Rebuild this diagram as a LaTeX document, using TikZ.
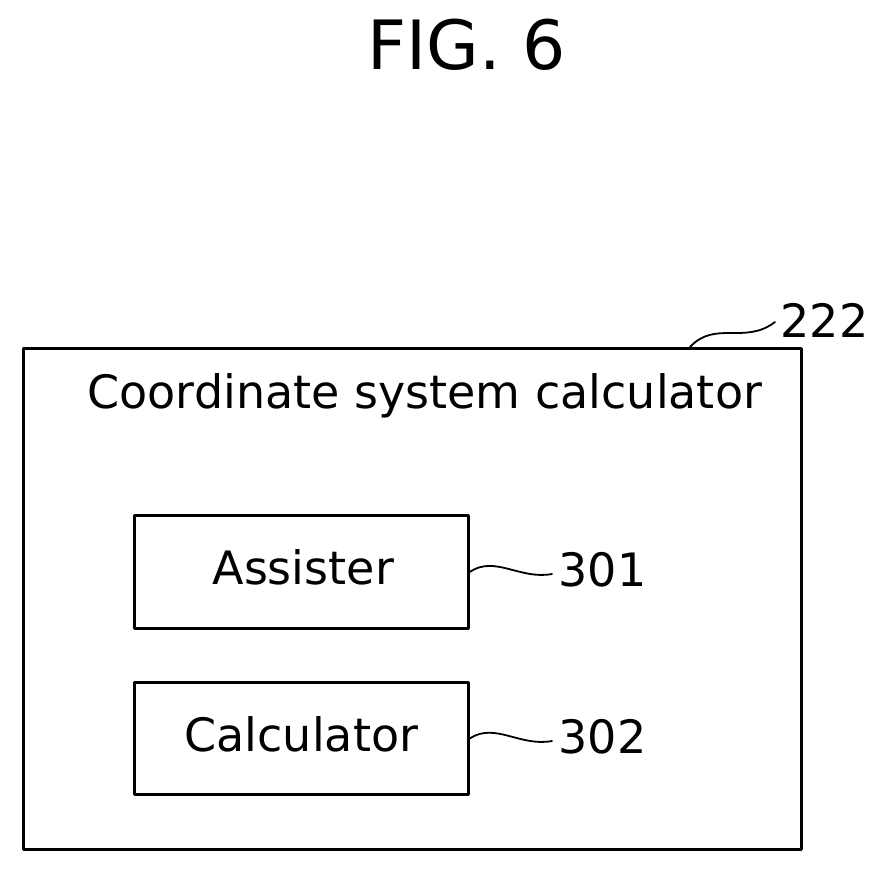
\documentclass[tikz,border=0pt]{standalone}
\usepackage{fontspec}
\setmainfont{DejaVu Sans}
\usetikzlibrary{positioning}
\tikzset{
  blk/.style={draw,line width=2.8pt,anchor=north west},
  wig/.style={line width=1.8pt},
  lbl/.style={font=\fontsize{46}{54}\selectfont}
}
\begin{document}
\begin{tikzpicture}[x=1pt,y=-1pt,line join=round,line cap=round]
\useasboundingbox (0,0) rectangle (891,871);
\node[lbl,font=\fontsize{68}{78}\selectfont] (fig) at (467,45) {FIG. 6};
\node[blk,minimum width=778pt,minimum height=501pt] (csc) at (22,347) {};
\node[lbl,anchor=west] (title) at (84,396) {Coordinate system calculator};
\node[blk,minimum width=334pt,minimum height=113pt] (asst) at (133,514) {};
\node[lbl,anchor=west] at (209,567) {Assister};
\node[blk,minimum width=334pt,minimum height=112pt] (calc) at (133,681) {};
\node[lbl,anchor=west] at (181,734) {Calculator};
\node[lbl,anchor=west] (n301) at (555,570) {301};
\node[lbl,anchor=west] (n302) at (555,737) {302};
\node[lbl,anchor=west] (n222) at (777,320) {222};
\coordinate (w1) at (552,574);
\coordinate (w2) at (552,741);
\coordinate (w3) at (690,347);
\coordinate (w4) at (775,322);
% squiggles
\draw[wig] (asst.east) .. controls (495,555) and (520,580) .. (w1);
\draw[wig] (calc.east) .. controls (495,722) and (520,747) .. (w2);
\draw[wig] (w3) .. controls (715,320) and (745,345) .. (w4);
\end{tikzpicture}
\end{document}
